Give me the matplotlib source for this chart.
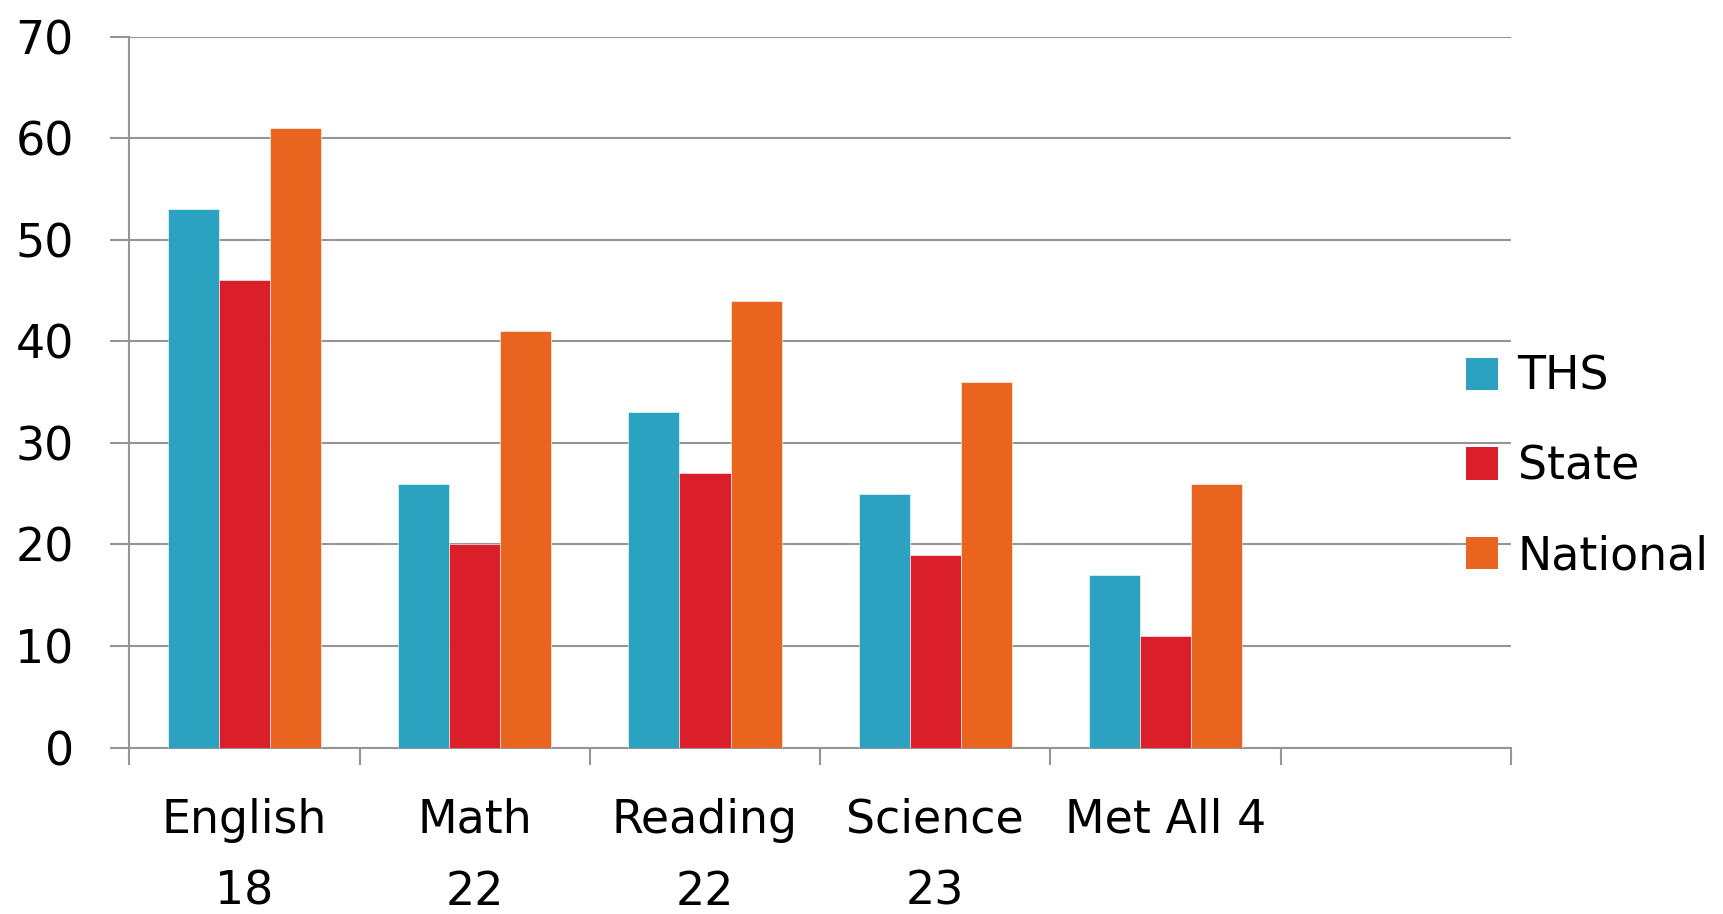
import matplotlib
matplotlib.use("Agg")
import matplotlib.pyplot as plt
import numpy as np
from matplotlib.patches import Patch

categories = ["English\n18", "Math\n22", "Reading\n22", "Science\n23", "Met All 4"]
series_names = ["THS", "State", "National"]
ths = [53, 26, 33, 25, 17]
state = [46, 20, 27, 19, 11]
national = [61, 41, 44, 36, 26]
yticks = [0, 10, 20, 30, 40, 50, 60, 70]
colors = ["#2CA2C1", "#DB1F2A", "#E9641F"]

n_slots = 6
fig = plt.figure(figsize=(17.23, 9.14), dpi=100)
ax = fig.add_axes([0.075, 0.182, 0.802, 0.778])

grid_c = "#959595"
bw = 0.222
x = np.arange(len(categories)) + 0.5
for i, (vals, c) in enumerate(zip([ths, state, national], colors)):
    ax.bar(x + (i - 1) * bw, vals, width=bw, color=c, edgecolor="white",
           linewidth=0.4, zorder=3)

ax.set_xlim(0, n_slots)
ax.set_ylim(0, 70)
ax.set_yticks(yticks)
ax.set_yticklabels([str(v) for v in yticks])
ax.yaxis.grid(True, color=grid_c, linewidth=1.5, zorder=0)
ax.set_axisbelow(True)

ax.set_xticks(np.arange(n_slots + 1))
ax.set_xticklabels([])
ax.set_xticks(x, minor=True)
ax.set_xticklabels(categories, minor=True, fontsize=33, linespacing=1.78,
                   va="top")
ax.tick_params(axis="x", which="minor", length=0, pad=36)
ax.tick_params(axis="x", which="major", length=12, width=1.5, color=grid_c,
               direction="out")
ax.tick_params(axis="y", length=14, width=1.5, color=grid_c, labelsize=33,
               pad=26)

for s in ["top", "right"]:
    ax.spines[s].set_visible(False)
for s in ["left", "bottom"]:
    ax.spines[s].set_color(grid_c)
    ax.spines[s].set_linewidth(1.5)

handles = [Patch(facecolor=c, edgecolor="none") for c in colors]
leg = fig.legend(handles, series_names, loc="center left",
                 bbox_to_anchor=(0.851, 0.489), frameon=False, fontsize=33,
                 handlelength=0.7, handleheight=0.7, handletextpad=0.42,
                 labelspacing=0.98, borderpad=0, borderaxespad=0)

fig.savefig("out.png", dpi=100)
